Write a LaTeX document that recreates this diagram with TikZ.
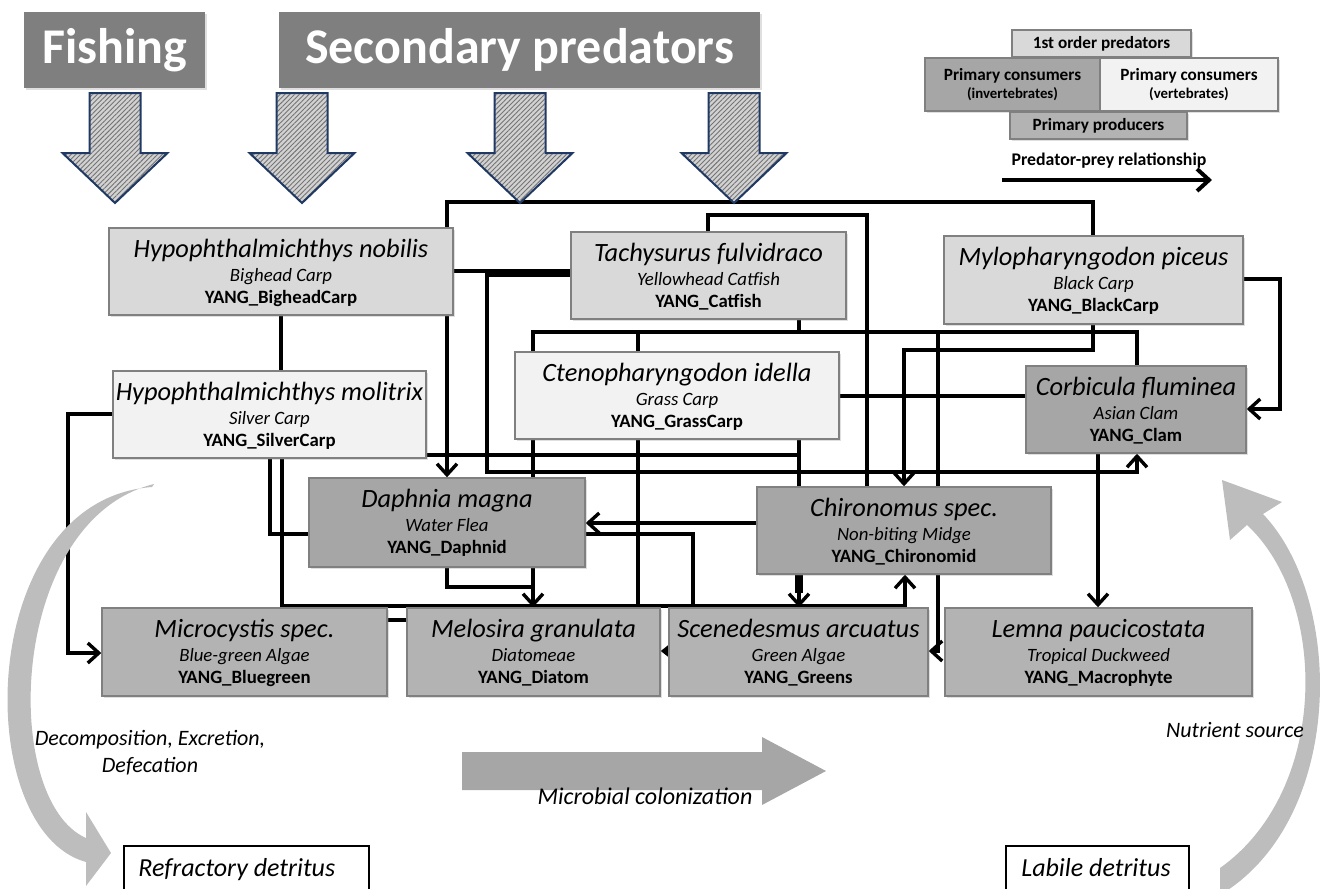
\documentclass[tikz,border=0pt]{standalone}
\usepackage{fontspec}
\setmainfont{Carlito}
\usetikzlibrary{arrows.meta,patterns.meta,shadows,calc}
\definecolor{pred}{HTML}{D9D9D9}
\definecolor{vert}{HTML}{F2F2F2}
\definecolor{inv}{HTML}{A6A6A6}
\definecolor{prod}{HTML}{B3B3B3}
\definecolor{bannerc}{HTML}{7F7F7F}
\definecolor{navy}{HTML}{1F3864}
\definecolor{flow}{HTML}{BDBDBD}
\definecolor{flowdark}{HTML}{A6A6A6}
\pgfdeclarelayer{bg}
\pgfsetlayers{bg,main}
\tikzset{
  box/.style={draw=black!50, line width=0.7pt, inner sep=0pt,
    drop shadow={opacity=0.25, shadow xshift=0.8pt, shadow yshift=-0.8pt}},
  predbox/.style={box, fill=pred},
  vertbox/.style={box, fill=vert},
  invbox/.style={box, fill=inv},
  prodbox/.style={box, fill=prod},
  detbox/.style={draw=black, line width=0.6pt, fill=white, inner sep=0pt},
  bannerbox/.style={fill=bannerc, text=white, inner sep=0pt,
    font=\fontsize{25}{30}\selectfont\bfseries,
    drop shadow={opacity=0.25, shadow xshift=0.8pt, shadow yshift=-0.8pt}},
  hatch/.style={draw=navy, line width=1pt, line join=miter,
    preaction={fill=gray!35},
    pattern={Lines[angle=45, distance=1.7pt, line width=0.45pt]},
    pattern color=black!55},
  conn/.style={line width=1.7pt, line join=miter},
  arr/.style={-{Straight Barb[length=5.5pt, width=10pt]}},
  smallarr/.style={-{Triangle[length=4pt, width=6pt]}},
  sci/.style={font=\fontsize{13.2}{15}\selectfont\itshape, anchor=base, inner sep=0pt},
  com/.style={font=\fontsize{9.4}{11}\selectfont\itshape, anchor=base, inner sep=0pt},
  codefont/.style={font=\fontsize{9.4}{11}\selectfont\bfseries, anchor=base, inner sep=0pt},
  lbl/.style={font=\fontsize{11}{13}\selectfont\itshape, anchor=base, inner sep=0pt},
  detlbl/.style={font=\fontsize{13}{15}\selectfont\itshape, anchor=base, inner sep=0pt},
  lgtext/.style={font=\fontsize{8.6}{10}\selectfont\bfseries, align=center},
}
% #1 name, #2 style, #3 x1, #4 y1, #5 x2, #6 y2, #7 latin, #8 common, #9 code
\newcommand\org[9]{%
  \node[#2, minimum width={(#5-#3)*0.5pt}, minimum height={(#6-#4)*0.5pt}]
    (#1) at ({(#3+#5)/2},{(#4+#6)/2}) {};
  \node[sci] at ($(#1.north)+(0,30)$) {#7};
  \node[com] at ($(#1.north)+(0,54)$) {#8};
  \node[codefont] at ($(#1.north)+(0,76)$) {#9};
}
\newcommand\hatcharrow[1]{%
  \path[hatch] (#1-25.5,93) -- (#1+25.5,93) -- (#1+25.5,153) -- (#1+52.5,153)
    -- (#1,203) -- (#1-52.5,153) -- (#1-25.5,153) -- cycle;
}
\begin{document}
\begin{tikzpicture}[x=0.5pt,y=-0.5pt]
\useasboundingbox (0,0) rectangle (1329,889);
\clip (0,0) rectangle (1329,889);

% helper coordinates for connector lines
\foreach \x in {68,270,281,282,447,533,638,693,708,799,867,904,905,1093,1098,1137} {\coordinate (v\x) at (\x,0);}
\foreach \y in {271,275,279,396,409,414,455,523,534,620,651,653} {\coordinate (h\y) at (0,\y);}

% banners
\node[bannerbox, minimum width=90.5pt, minimum height=38pt] (fishing) at (114.5,50) {Fishing};
\node[bannerbox, minimum width=240.5pt, minimum height=38pt] (secpred) at (519.5,50) {Secondary predators};

% hatched down arrows
\hatcharrow{115}
\hatcharrow{302}
\hatcharrow{520}
\hatcharrow{734}

% legend
\node[predbox, minimum width=89.5pt, minimum height=13.5pt, lgtext] (lgpred) at (1101.5,43.5) {1st order predators};
\node[invbox, minimum width=87.5pt, minimum height=26.5pt, lgtext] (lginv) at (1012.5,84.5)
  {Primary consumers\\[-1pt]{\fontsize{7.4}{8.5}\selectfont(invertebrates)}};
\node[vertbox, minimum width=89pt, minimum height=26.5pt, lgtext] (lgvert) at (1189,84.5)
  {Primary consumers\\[-1pt]{\fontsize{7.4}{8.5}\selectfont(vertebrates)}};
\node[prodbox, minimum width=88.5pt, minimum height=13.5pt, lgtext] (lgprod) at (1098.5,125.5) {Primary producers};
\node[lgtext, font=\fontsize{8.9}{10}\selectfont\bfseries, anchor=base, inner sep=0pt] (lgrel) at (1109,165) {Predator-prey relationship};
\coordinate (lgA) at (1002,180);
\coordinate (lgB) at (1212,180);
\draw[line width=2pt, -{Straight Barb[length=6pt, width=11pt]}] (lgA) -- (lgB);

% organism boxes
\org{bighead}{predbox}{109}{228}{453}{315}{Hypophthalmichthys nobilis}{Bighead Carp}{YANG\_BigheadCarp}
\org{catfish}{predbox}{571}{232}{846}{319}{Tachysurus fulvidraco}{Yellowhead Catfish}{YANG\_Catfish}
\org{blackcarp}{predbox}{944}{236}{1243}{324}{Mylopharyngodon piceus}{Black Carp}{YANG\_BlackCarp}
\org{silver}{vertbox}{113}{371}{426}{458}{Hypophthalmichthys molitrix}{Silver Carp}{YANG\_SilverCarp}
\org{grass}{vertbox}{515}{352}{839}{439}{Ctenopharyngodon idella}{Grass Carp}{YANG\_GrassCarp}
\org{clam}{invbox}{1026}{366}{1246}{453}{Corbicula fluminea}{Asian Clam}{YANG\_Clam}
\org{daphnia}{invbox}{309}{478}{585}{567}{Daphnia magna}{Water Flea}{YANG\_Daphnid}
\org{chiro}{invbox}{757}{487}{1051}{574}{Chironomus spec.}{Non-biting Midge}{YANG\_Chironomid}
\org{bluegreen}{prodbox}{102}{608}{387}{696}{Microcystis spec.}{Blue-green Algae}{YANG\_Bluegreen}
\org{diatom}{prodbox}{407}{608}{660}{696}{Melosira granulata}{Diatomeae}{YANG\_Diatom}
\org{greens}{prodbox}{669}{608}{928}{696}{Scenedesmus arcuatus}{Green Algae}{YANG\_Greens}
\org{macro}{prodbox}{945}{608}{1252}{696}{Lemna paucicostata}{Tropical Duckweed}{YANG\_Macrophyte}

% connectors (behind boxes)
\begin{pgfonlayer}{bg}
\draw[conn,arr] (blackcarp.north -| v1093) -- (1093,202) -- (447,202) -- (daphnia.north -| v447);
\draw[conn] (catfish.north -| v708) -- (708,215) -- (867,215) -- (chiro.north -| v867);
\draw[conn] (bighead.east |- h271) -- (catfish.west |- h271);
\draw[conn,arr] (catfish.west |- h275) -- (487,275) -- (487,472) -- (1137,472) -- (clam.south -| v1137);
\draw[conn] (bighead.south -| v281) -- (silver.north -| v281);
\draw[conn] (catfish.south -| v799) -- (799,332);
\draw[conn] (grass.north -| v533) -- (533,332) -- (1137,332) -- (clam.north -| v1137);
\draw[conn] (638,332) -- (grass.north -| v638);
\draw[conn,arr] (938,332) -- (938,651) -- (greens.east |- h651);
\draw[conn,arr] (grass.south -| v533) -- (diatom.north -| v533);
\draw[conn] (daphnia.south -| v447) -- (447,587) -- (533,587);
\draw[conn] (grass.south -| v638) -- (diatom.north -| v638);
\draw[conn,arr] (grass.south -| v799) -- (greens.north -| v799);
\draw[line width=3.6pt] (chiro.south -| v799) -- ($(greens.north -| v799)+(0,-14)$);
\draw[conn] (silver.east |- h455) -- (799,455);
\draw[conn] (silver.south -| v270) -- (270,534) -- (daphnia.west |- h534);
\draw[conn,arr] (silver.south -| v282) -- (282,606) -- (905,606) -- (chiro.south -| v905);
\draw[conn,arr] (silver.west |- h414) -- (68,414) -- (68,653) -- (bluegreen.west |- h653);
\draw[conn,arr] (chiro.west |- h523) -- (daphnia.east |- h523);
\draw[conn] (daphnia.east |- h534) -- (693,534) -- (greens.north -| v693);
\draw[conn,smallarr] (greens.west |- h651) -- (diatom.east |- h651);
\draw[conn] (bluegreen.east |- h620) -- (diatom.west |- h620);
\draw[conn,arr] (blackcarp.south -| v1093) -- (1093,350) -- (904,350) -- (chiro.north -| v904);
\draw[conn] (grass.east |- h396) -- (clam.west |- h396);
\draw[conn,arr] (blackcarp.east |- h279) -- (1280,279) -- (1280,409) -- (clam.east |- h409);
\draw[conn,arr] (clam.south -| v1098) -- (macro.north -| v1098);
\end{pgfonlayer}

% detritus boxes
\node[detbox, minimum width=122.5pt, minimum height=30pt] (refr) at (246.5,876) {};
\node[detlbl, anchor=base west] at (138,876) {Refractory detritus};
\node[detbox, minimum width=91.5pt, minimum height=30pt] (labile) at (1097.5,876) {};
\node[detlbl] at (1096,876) {Labile detritus};

% process flows
\fill[flow] (152,487) .. controls (-25,500) and (-30,830) .. (86,862)
  -- (86,886) -- (111,853) -- (86,812) -- (86,838)
  .. controls (0,800) and (8,520) .. (154,484) -- cycle;
\fill[flow] (1220,895) .. controls (1345,820) and (1345,600) .. (1263,514)
  -- (1282,502) -- (1222,480) -- (1230,540) -- (1247,525)
  .. controls (1328,600) and (1330,790) .. (1220,868) -- cycle;
\fill[flowdark] (462,752) -- (762,752) -- (762,737) -- (826,771) -- (762,805) -- (762,790) -- (462,790) -- cycle;

\node[lbl] at (150,745) {Decomposition, Excretion,};
\node[lbl] at (150,772) {Defecation};
\node[lbl] at (1235,737) {Nutrient source};
\node[lbl, font=\fontsize{12}{14}\selectfont\itshape] at (645,804) {Microbial colonization};
\end{tikzpicture}
\end{document}
